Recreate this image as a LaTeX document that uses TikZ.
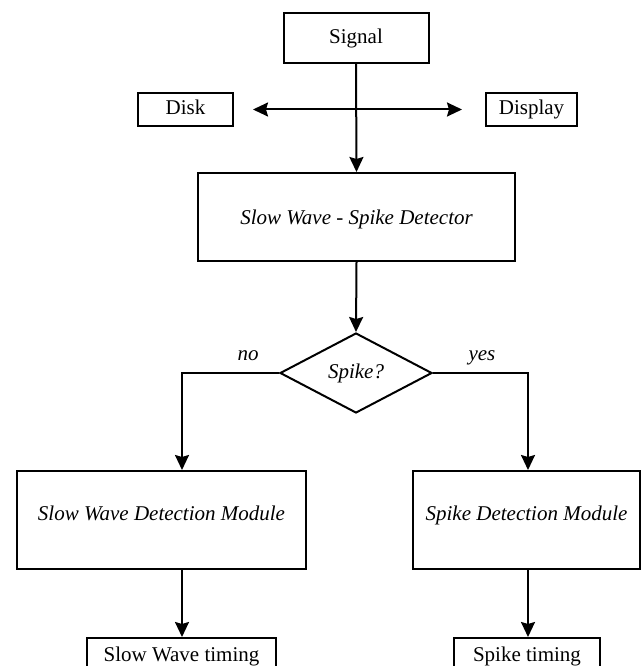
\documentclass[tikz,border=0pt]{standalone}
\usepackage{fontspec}
\setmainfont{Liberation Serif}
\usetikzlibrary{shapes.geometric,arrows.meta}

\begin{document}
\begin{tikzpicture}[x=1pt,y=-1pt,
  every node/.style={font=\fontsize{21}{25}\selectfont},
  box/.style={draw,line width=2pt,inner sep=0pt,minimum width=#1,
              text height=14pt,text depth=5pt},
  flow/.style={line width=2pt,-{Stealth[length=15pt,width=14pt,inset=2pt]}},
  lbl/.style={font=\fontsize{21}{25}\selectfont\itshape}]
\useasboundingbox (0,0) rectangle (642,666);

% source and its outputs
\node[box=145pt,minimum height=50pt,text depth=2pt] (signal) at (356,38) {Signal};
\node[box=95pt,minimum height=33pt] (disk) at (185.5,109.5) {Disk};
\node[box=91pt,minimum height=33pt] (display) at (531.5,109.5) {Display};

% detector
\node[box=317pt,minimum height=88pt,text depth=0pt,lbl] (det) at (356.5,217) {Slow Wave - Spike Detector};

% decision
\node[draw,line width=2pt,diamond,aspect=1.9,inner sep=0pt,
      minimum width=152pt,minimum height=80pt,lbl] (dec) at (356,373) {Spike?};

% detection modules
\node[box=289pt,minimum height=98pt,text depth=14pt,lbl] (swm) at (161.5,520) {Slow Wave Detection Module};
\node[box=227pt,minimum height=98pt,text depth=14pt,lbl] (spm) at (526.5,520) {Spike Detection Module};

% timing outputs
\node[box=189pt,minimum height=38pt] (swt) at (181.5,657) {Slow Wave timing};
\node[box=146pt,minimum height=38pt] (spt) at (527,657) {Spike timing};

% connectors
\coordinate (nojoin) at (182,373);
\coordinate (yesjoin) at (528,373);

\draw[flow] (signal.south) -- (det.north);
\draw[line width=2pt,{Stealth[length=15pt,width=14pt,inset=2pt]}-{Stealth[length=15pt,width=14pt,inset=2pt]},
      shorten <=19pt,shorten >=23pt] (disk.east) -- (display.west);
\draw[flow] (det.south) -- (dec.north);
\draw[flow] (dec.west) -- (nojoin) -- (nojoin |- swm.north);
\draw[flow] (dec.east) -- (yesjoin) -- (yesjoin |- spm.north);
\draw[flow] (nojoin |- swm.south) -- (nojoin |- swt.north);
\draw[flow] (yesjoin |- spm.south) -- (yesjoin |- spt.north);

% branch labels
\node[lbl,anchor=base] (nolbl) at (248,360) {no};
\node[lbl,anchor=base] (yeslbl) at (482,360) {yes};
\end{tikzpicture}
\end{document}
